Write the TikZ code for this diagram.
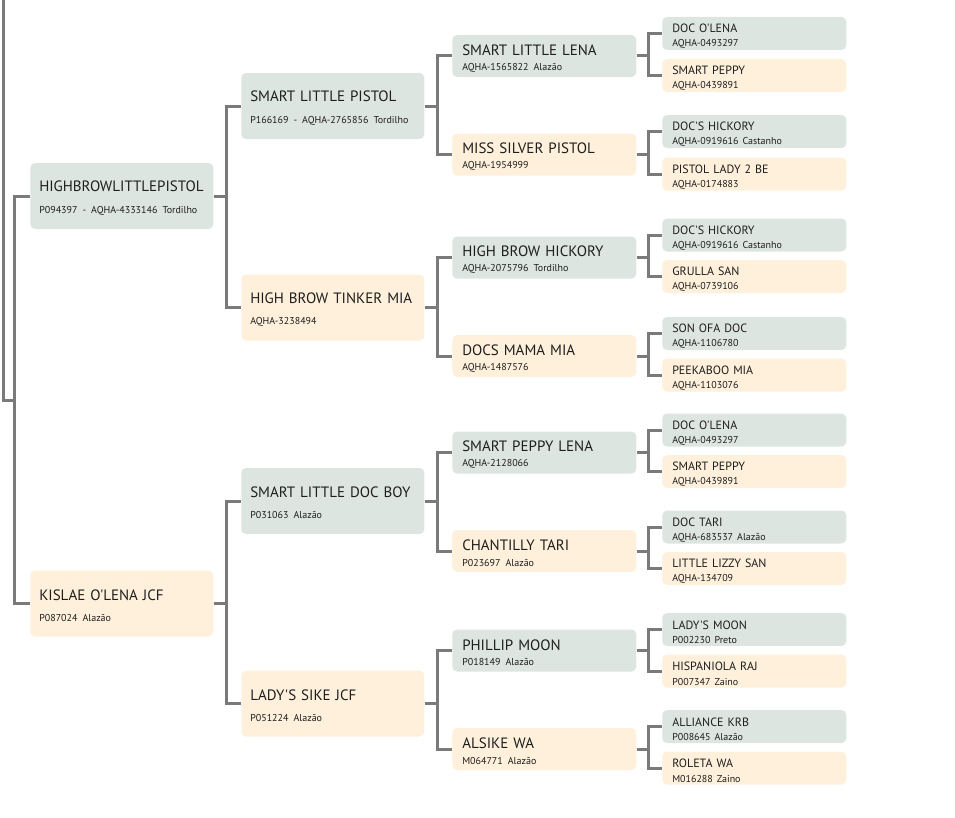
\documentclass[tikz,border=0pt]{standalone}
\usepackage{fontspec}
\setmainfont{PT Sans}[Ligatures=TeXOff]
\usepackage{tikz}
\usetikzlibrary{positioning}

\definecolor{sirefill}{RGB}{221,229,225}
\definecolor{damfill}{RGB}{254,240,219}
\definecolor{linkgray}{RGB}{122,122,122}
\definecolor{inkc}{RGB}{30,30,30}
\newcommand{\regno}[1]{{\fontsize{7.5}{9}\selectfont #1}}

\begin{document}
\begin{tikzpicture}[
	x=0.75pt, y=-0.75pt,
	horse/.style={anchor=west, rounded corners=3.5pt, inner ysep=0pt, align=left, text=inkc},
	genbig/.style={horse, inner xsep=6.75pt, text width=123.75pt, minimum height=49.5pt, font=\fontsize{11.25}{16}\selectfont, execute at begin node={\rule{0pt}{10.9pt}}},
	genmid/.style={horse, inner xsep=7.5pt, text width=123pt, minimum height=31.5pt, font=\fontsize{11.25}{11.5}\selectfont, execute at begin node={\rule{0pt}{11.5pt}}},
	gensmall/.style={horse, inner xsep=7.5pt, text width=123pt, minimum height=24.75pt, font=\fontsize{9}{10.8}\selectfont, execute at begin node={\rule{0pt}{10.8pt}}},
	sire/.style={fill=sirefill},
	dam/.style={fill=damfill},
	link/.style={draw=linkgray, line width=2.25pt}]
	\useasboundingbox (0,0) rectangle (955,817);
	% first generation
	\node[genbig, sire] (s) at (30,196) {HIGHBROWLITTLEPISTOL\\\regno{P094397 - AQHA-4333146 Tordilho}};
	\node[genbig, dam] (d) at (30,603.5) {KISLAE O'LENA JCF\\\regno{P087024 Alazão}};
	% second generation
	\node[genbig, sire] (ss) at (241,106) {SMART LITTLE PISTOL\\\regno{P166169 - AQHA-2765856 Tordilho}};
	\node[genbig, dam] (sd) at (241,307.5) {HIGH BROW TINKER MIA\\\regno{AQHA-3238494}};
	\node[genbig, sire] (ds) at (241,501) {SMART LITTLE DOC BOY\\\regno{P031063 Alazão}};
	\node[genbig, dam] (dd) at (241,703.5) {LADY'S SIKE JCF\\\regno{P051224 Alazão}};
	% third generation
	\node[genmid, sire] (sss) at (452,56) {SMART LITTLE LENA\\\regno{AQHA-1565822 Alazão}};
	\node[genmid, dam] (ssd) at (452,154.5) {MISS SILVER PISTOL\\\regno{AQHA-1954999}};
	\node[genmid, sire] (sds) at (452,257.5) {HIGH BROW HICKORY\\\regno{AQHA-2075796 Tordilho}};
	\node[genmid, dam] (sdd) at (452,356) {DOCS MAMA MIA\\\regno{AQHA-1487576}};
	\node[genmid, sire] (dss) at (452,452.5) {SMART PEPPY LENA\\\regno{AQHA-2128066}};
	\node[genmid, dam] (dsd) at (452,551) {CHANTILLY TARI\\\regno{P023697 Alazão}};
	\node[genmid, sire] (dds) at (452,650.5) {PHILLIP MOON\\\regno{P018149 Alazão}};
	\node[genmid, dam] (ddd) at (452,749) {ALSIKE WA\\\regno{M064771 Alazão}};
	% fourth generation
	\node[gensmall, sire] (ssss) at (662,33.5) {DOC O'LENA\\\regno{AQHA-0493297}};
	\node[gensmall, dam] (sssd) at (662,75.5) {SMART PEPPY\\\regno{AQHA-0439891}};
	\node[gensmall, sire] (ssds) at (662,131.5) {DOC'S HICKORY\\\regno{AQHA-0919616 Castanho}};
	\node[gensmall, dam] (ssdd) at (662,174) {PISTOL LADY 2 BE\\\regno{AQHA-0174883}};
	\node[gensmall, sire] (sdss) at (662,235) {DOC'S HICKORY\\\regno{AQHA-0919616 Castanho}};
	\node[gensmall, dam] (sdsd) at (662,276.5) {GRULLA SAN\\\regno{AQHA-0739106}};
	\node[gensmall, sire] (sdds) at (662,333.5) {SON OFA DOC\\\regno{AQHA-1106780}};
	\node[gensmall, dam] (sddd) at (662,375) {PEEKABOO MIA\\\regno{AQHA-1103076}};
	\node[gensmall, sire] (dsss) at (662,430) {DOC O'LENA\\\regno{AQHA-0493297}};
	\node[gensmall, dam] (dssd) at (662,471.5) {SMART PEPPY\\\regno{AQHA-0439891}};
	\node[gensmall, sire] (dsds) at (662,527) {DOC TARI\\\regno{AQHA-683537 Alazão}};
	\node[gensmall, dam] (dsdd) at (662,568.5) {LITTLE LIZZY SAN\\\regno{AQHA-134709}};
	\node[gensmall, sire] (ddss) at (662,629.5) {LADY'S MOON\\\regno{P002230 Preto}};
	\node[gensmall, dam] (ddsd) at (662,671) {HISPANIOLA RAJ\\\regno{P007347 Zaino}};
	\node[gensmall, sire] (ddds) at (662,726.5) {ALLIANCE KRB\\\regno{P008645 Alazão}};
	\node[gensmall, dam] (dddd) at (662,768) {ROLETA WA\\\regno{M016288 Zaino}};
	% links
	\coordinate (root) at (3,0);
	\coordinate (fork) at (14,400);
	\draw[link] (root) |- (fork);
	\draw[link] (fork) |- (s.west) (fork) |- (d.west);
	\draw[link] (s.east) -- ++(13,0) |- (ss.west) (s.east) ++(13,0) |- (sd.west);
	\draw[link] (d.east) -- ++(13,0) |- (ds.west) (d.east) ++(13,0) |- (dd.west);
	\draw[link] (ss.east) -- ++(13,0) |- (sss.west) (ss.east) ++(13,0) |- (ssd.west);
	\draw[link] (sd.east) -- ++(13,0) |- (sds.west) (sd.east) ++(13,0) |- (sdd.west);
	\draw[link] (ds.east) -- ++(13,0) |- (dss.west) (ds.east) ++(13,0) |- (dsd.west);
	\draw[link] (dd.east) -- ++(13,0) |- (dds.west) (dd.east) ++(13,0) |- (ddd.west);
	\draw[link] (sss.east) -- ++(12,0) |- (ssss.west) (sss.east) ++(12,0) |- (sssd.west);
	\draw[link] (ssd.east) -- ++(12,0) |- (ssds.west) (ssd.east) ++(12,0) |- (ssdd.west);
	\draw[link] (sds.east) -- ++(12,0) |- (sdss.west) (sds.east) ++(12,0) |- (sdsd.west);
	\draw[link] (sdd.east) -- ++(12,0) |- (sdds.west) (sdd.east) ++(12,0) |- (sddd.west);
	\draw[link] (dss.east) -- ++(12,0) |- (dsss.west) (dss.east) ++(12,0) |- (dssd.west);
	\draw[link] (dsd.east) -- ++(12,0) |- (dsds.west) (dsd.east) ++(12,0) |- (dsdd.west);
	\draw[link] (dds.east) -- ++(12,0) |- (ddss.west) (dds.east) ++(12,0) |- (ddsd.west);
	\draw[link] (ddd.east) -- ++(12,0) |- (ddds.west) (ddd.east) ++(12,0) |- (dddd.west);
\end{tikzpicture}
\end{document}
